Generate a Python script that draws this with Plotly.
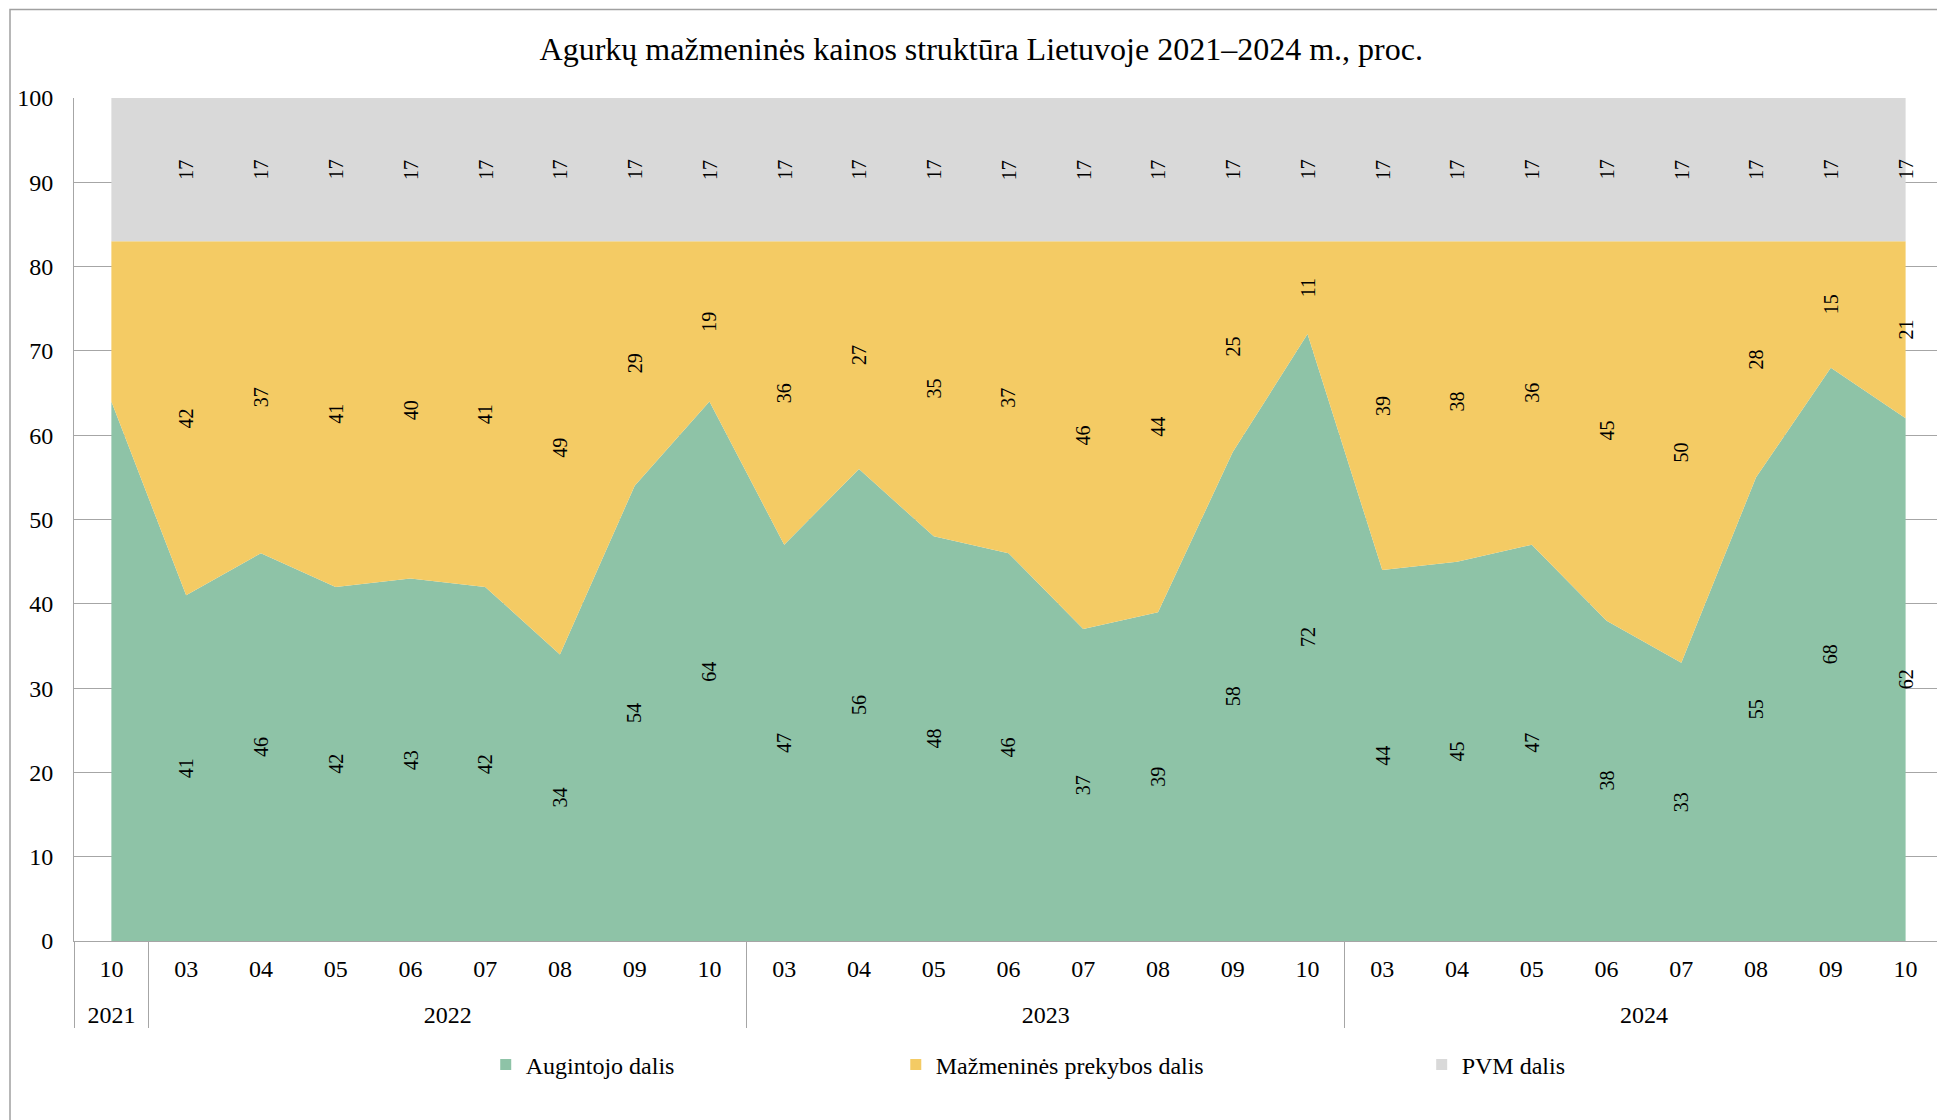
import plotly.graph_objects as go

# Period labels (two-level category axis: year / month)
years = ["2021",
         "2022", "2022", "2022", "2022", "2022", "2022", "2022", "2022",
         "2023", "2023", "2023", "2023", "2023", "2023", "2023", "2023",
         "2024", "2024", "2024", "2024", "2024", "2024", "2024", "2024"]
months = ["10",
          "03", "04", "05", "06", "07", "08", "09", "10",
          "03", "04", "05", "06", "07", "08", "09", "10",
          "03", "04", "05", "06", "07", "08", "09", "10"]

# Shares of the retail price, %
grower = [64, 41, 46, 42, 43, 42, 34, 54, 64,
          47, 56, 48, 46, 37, 39, 58, 72,
          44, 45, 47, 38, 33, 55, 68, 62]
retail = [19, 42, 37, 41, 40, 41, 49, 29, 19,
          36, 27, 35, 37, 46, 44, 25, 11,
          39, 38, 36, 45, 50, 28, 15, 21]
vat = [17, 17, 17, 17, 17, 17, 17, 17, 17,
       17, 17, 17, 17, 17, 17, 17, 17,
       17, 17, 17, 17, 17, 17, 17, 17]

series_names = ["Augintojo dalis", "Mažmeninės prekybos dalis", "PVM dalis"]
series_values = [grower, retail, vat]
colors = ["#8EC3A7", "#F4CB64", "#D9D9D9"]

title_text = "Agurkų mažmeninės kainos struktūra Lietuvoje 2021–2024 m., proc."

FONT = "Liberation Serif"
AXIS_GREY = "#A6A6A6"
LABEL_SPAN = "<span style='font-size:24px'>{}</span>"

# Axis labels: year labels sit one (short) line below the month labels.
# Plotly orders inner categories by first appearance, so the lone 2021
# month gets an invisible zero-width suffix to keep chronological order.
year_axis = ["<br>" + LABEL_SPAN.format(y) for y in years]
month_axis = [LABEL_SPAN.format(m + "\u200b" if y == years[0] else m)
              for y, m in zip(years, months)]
x_multi = [year_axis, month_axis]

fig = go.Figure()

# Stacked areas
for name, vals, col in zip(series_names, series_values, colors):
    fig.add_trace(go.Scatter(
        x=x_multi, y=vals, name=name,
        mode="lines", stackgroup="share",
        line=dict(width=0, color=col), fillcolor=col,
        showlegend=False, hoverinfo="skip",
    ))

# Legend entries with square swatches, placed on a hidden helper axis
legend_x = [0.2210, 0.4411, 0.7234]
legend_keys = ["legend", "legend2", "legend3"]
for name, col, key in zip(series_names, colors, legend_keys):
    fig.add_trace(go.Scatter(
        x=[None], y=[None], name=name, mode="markers",
        marker=dict(symbol="square", size=11, color=col),
        xaxis="x2", yaxis="y2", legend=key, showlegend=True,
    ))

# Value labels in the middle of each band (first period left unlabeled)
annotations = []
n = len(months)
for i in range(1, n):
    base = 0
    for vals in series_values:
        v = vals[i]
        annotations.append(dict(
            x=i, y=base + v / 2, xref="x", yref="y",
            text=str(v), showarrow=False, textangle=-90,
            font=dict(family=FONT, size=20, color="black"),
        ))
        base += v

legend_common = dict(
    orientation="h", yanchor="middle", y=-0.147, xanchor="left",
    font=dict(family=FONT, size=24, color="black"),
    bgcolor="rgba(0,0,0,0)", itemwidth=30,
)

fig.update_layout(
    width=1937, height=1120,
    margin=dict(l=74, r=0, t=98, b=179),
    paper_bgcolor="white", plot_bgcolor="white",
    title=dict(
        text=title_text, x=0.487, xref="paper", xanchor="center",
        y=1 - 49 / 1120, yref="container", yanchor="middle",
        font=dict(family=FONT, size=32, color="black"),
    ),
    xaxis=dict(
        type="multicategory", range=[-0.5, 24.42],
        showline=True, linecolor=AXIS_GREY, linewidth=1,
        showgrid=False, ticks="", ticklabelstandoff=10,
        showdividers=True, dividercolor=AXIS_GREY, dividerwidth=1,
        tickfont=dict(family=FONT, size=21, color="black"),
    ),
    yaxis=dict(
        range=[0, 100], dtick=10, tick0=0,
        showgrid=True, gridcolor=AXIS_GREY, gridwidth=1,
        showline=True, linecolor=AXIS_GREY, linewidth=1,
        zeroline=False, ticks="", ticklabelstandoff=15,
        tickfont=dict(family=FONT, size=24, color="black"),
    ),
    xaxis2=dict(visible=False, overlaying="x", range=[0, 1]),
    yaxis2=dict(visible=False, overlaying="y", range=[0, 1]),
    legend=dict(legend_common, x=legend_x[0]),
    legend2=dict(legend_common, x=legend_x[1]),
    legend3=dict(legend_common, x=legend_x[2]),
    annotations=annotations,
    shapes=[dict(
        type="rect", xref="paper", yref="paper",
        x0=(10 - 74) / 1863, x1=1.02,
        y0=(941 - 1140) / 843, y1=(941 - 9.5) / 843,
        line=dict(color="#A0A0A0", width=1.5), fillcolor="rgba(0,0,0,0)",
        layer="below",
    )],
)

fig.write_html("out.html")
